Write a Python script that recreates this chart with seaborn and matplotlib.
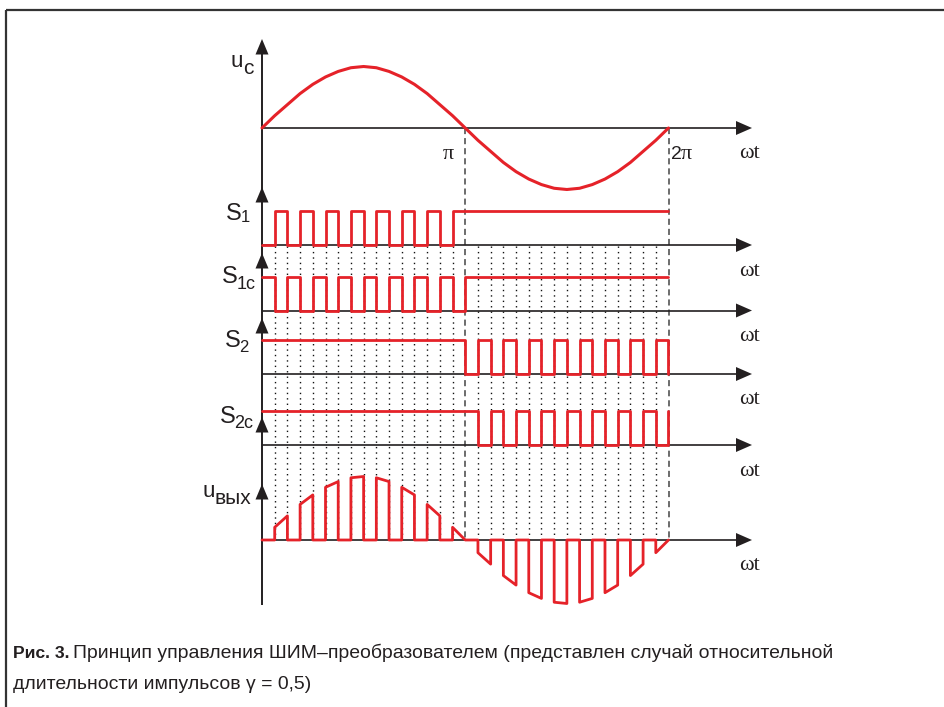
import numpy as np
import matplotlib
matplotlib.use("Agg")
import matplotlib.pyplot as plt
from matplotlib.patches import Polygon
import seaborn as sns

# ---------------- data ----------------
# control voltage u_c (relative to its peak) at the 33 carrier half-period boundaries, 0 .. 2π
uc_values = [0.00, 0.20, 0.38, 0.56, 0.71, 0.83, 0.92, 0.98, 1.00, 0.98, 0.92, 0.83, 0.71, 0.56, 0.38, 0.20,
             0.00, -0.20, -0.38, -0.56, -0.71, -0.83, -0.92, -0.98, -1.00, -0.98, -0.92, -0.83, -0.71, -0.56,
             -0.38, -0.20, 0.00]
# switch states at the start of each half-period (33rd entry: level after the 2π edge)
s1_states = [0, 1, 0, 1, 0, 1, 0, 1, 0, 1, 0, 1, 0, 1, 0, 1,
             1, 1, 1, 1, 1, 1, 1, 1, 1, 1, 1, 1, 1, 1, 1, 1, 1]
s1c_states = [1, 0, 1, 0, 1, 0, 1, 0, 1, 0, 1, 0, 1, 0, 1, 0,
              1, 1, 1, 1, 1, 1, 1, 1, 1, 1, 1, 1, 1, 1, 1, 1, 1]
s2_states = [1, 1, 1, 1, 1, 1, 1, 1, 1, 1, 1, 1, 1, 1, 1, 1,
             0, 1, 0, 1, 0, 1, 0, 1, 0, 1, 0, 1, 0, 1, 0, 1, 0]
s2c_states = [1, 1, 1, 1, 1, 1, 1, 1, 1, 1, 1, 1, 1, 1, 1, 1,
              1, 0, 1, 0, 1, 0, 1, 0, 1, 0, 1, 0, 1, 0, 1, 0, 1]
# output voltage present (1) or zero (0) in each half-period
out_states = [0, 1, 0, 1, 0, 1, 0, 1, 0, 1, 0, 1, 0, 1, 0, 1,
              0, 1, 0, 1, 0, 1, 0, 1, 0, 1, 0, 1, 0, 1, 0, 1]

axis_labels = ["u", "S", "S", "S", "S", "u"]
axis_subs = ["c", "1", "1c", "2", "2c", "вых"]
x_label = "ωt"
tick_labels = ["π", "2π"]
caption_bold = "Рис. 3."
caption_1 = "Принцип управления ШИМ–преобразователем (представлен случай относительной"
caption_2 = "длительности импульсов γ = 0,5)"

# ---------------- layout ----------------
W, H = 945, 707
X0, X2PI = 262.0, 668.5
SX = (X2PI - X0) / (2 * np.pi)
XLIM = (-X0 / SX, (W - X0) / SX)
RED = "#e52229"
INK = "#231f20"
SERIF = ["Liberation Serif", "DejaVu Serif"]

sns.set_theme(style="white")
plt.rcParams["font.family"] = ["Liberation Sans", "DejaVu Sans"]

fig = plt.figure(figsize=(W / 100, H / 100), dpi=100)
fig.patch.set_facecolor("white")

deco = fig.add_axes([0, 0, 1, 1])
deco.set_xlim(0, W)
deco.set_ylim(H, 0)
deco.axis("off")
deco.set_zorder(1)

def trace_axes(baseline, unit):
    ax = fig.add_axes([0, 0, 1, 1])
    ax.set_xlim(*XLIM)
    ax.set_ylim((baseline - H) / unit, baseline / unit)
    ax.axis("off")
    ax.patch.set_alpha(0)
    ax.set_zorder(3)
    return ax

theta = np.linspace(0, 2 * np.pi, len(uc_values))

# frame
deco.plot([6, W], [10, 10], color="#333333", lw=1.6, solid_capstyle="butt")
deco.plot([6, 6], [10, H], color="#333333", lw=1.6, solid_capstyle="butt")

# grid: dotted and dashed verticals
dx = (X2PI - X0) / 32
for k in range(1, 32):
    if k == 16:
        continue
    deco.plot([X0 + k * dx] * 2, [246, 540], color="#111111", lw=1.0,
              linestyle=(0, (1.0, 2.9)))
for xd in (X0 + 16 * dx, X2PI):
    deco.plot([xd, xd], [128, 540], color="#444444", lw=1.1, linestyle=(0, (4.0, 2.6)))

# vertical axis
deco.plot([X0, X0], [42, 605], color=INK, lw=1.4, solid_capstyle="butt")
for tip in (39, 187, 253, 318, 417, 484):
    deco.add_patch(Polygon([[X0, tip], [X0 - 6.5, tip + 15.5], [X0 + 6.5, tip + 15.5]],
                           closed=True, color=INK, lw=0))

# horizontal axes
baselines = [128, 245, 310.5, 374, 445, 540]
for yb in baselines:
    deco.plot([X0, 740], [yb, yb], color=INK, lw=1.2, solid_capstyle="butt")
    deco.add_patch(Polygon([[752, yb], [736, yb - 7], [736, yb + 7]], closed=True, color=INK, lw=0))
    deco.text(749, yb + 26, x_label, ha="center", va="center", fontsize=16,
              family=SERIF, color=INK)

# pi labels
deco.text(448, 159, tick_labels[0], ha="center", va="baseline", fontsize=16, family=SERIF, color=INK)
deco.text(671, 159, tick_labels[1][0], ha="left", va="baseline", fontsize=14, color=INK)
deco.text(681, 159, tick_labels[1][1], ha="left", va="baseline", fontsize=16, family=SERIF, color=INK)

# axis name labels: (x main, baseline main, x sub, baseline sub, main size, sub size)
label_pos = [(231, 67, 243, 74, 16, 15),
             (226, 220, 241, 222, 17, 12),
             (222, 283, 237, 289, 17, 13),
             (225, 347, 239, 352, 17, 12),
             (220, 423, 234, 428, 17, 13),
             (203, 497, 214, 504, 16, 15)]
for (xm, ym, xs, ys, fm, fs), m, s in zip(label_pos, axis_labels, axis_subs):
    deco.text(xm, ym, m, ha="left", va="baseline", fontsize=fm, color=INK)
    deco.text(xs, ys, s, ha="left", va="baseline", fontsize=fs, color=INK)

# ---------------- traces ----------------
ax_uc = trace_axes(128, 61.5)
sns.lineplot(x=theta, y=uc_values, ax=ax_uc, color=RED, lw=2.2, estimator=None, sort=False)

for states, yb in zip([s1_states, s1c_states, s2_states, s2c_states], baselines[1:5]):
    ax_s = trace_axes(yb, 34)
    sns.lineplot(x=theta, y=states, ax=ax_s, color=RED, lw=2.0, estimator=None, sort=False,
                 drawstyle="steps-post")

xs_out, ys_out = [], []
for k, on in enumerate(out_states):
    if on:
        xs_out += [theta[k], theta[k], theta[k + 1], theta[k + 1]]
        ys_out += [0, uc_values[k], uc_values[k + 1], 0]
    else:
        xs_out += [theta[k], theta[k + 1]]
        ys_out += [0, 0]
ax_out = trace_axes(540, 63.5)
sns.lineplot(x=xs_out, y=ys_out, ax=ax_out, color=RED, lw=2.0, estimator=None, sort=False)

for a in fig.axes:
    leg = a.get_legend()
    if leg:
        leg.remove()

# ---------------- caption ----------------
deco.text(13, 658, caption_bold, ha="left", va="baseline", fontsize=12.6, fontweight="bold", color=INK)
deco.text(73, 658, caption_1, ha="left", va="baseline", fontsize=13.95, color=INK)
deco.text(13, 689, caption_2, ha="left", va="baseline", fontsize=13.95, color=INK)

fig.savefig("out.png", dpi=100, facecolor="white")
